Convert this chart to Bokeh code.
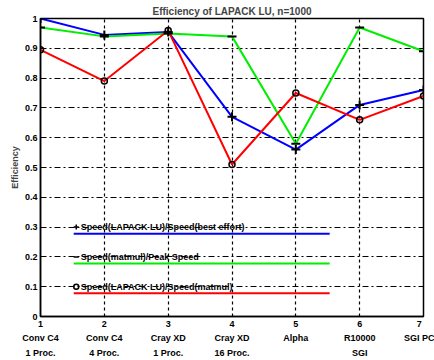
from bokeh.plotting import figure
from bokeh.models import Range1d, FixedTicker, Label
from bokeh.embed import file_html
from bokeh.resources import INLINE

x = [1, 2, 3, 4, 5, 6, 7]
tick_labels = ["1\nConv C4\n1 Proc.", "2\nConv C4\n4 Proc.", "3\nCray XD\n1 Proc.",
               "4\nCray XD\n16 Proc.", "5\nAlpha\n ", "6\nR10000\nSGI", "7\nSGI PC\n "]
lu_best = [1.0, 0.945, 0.955, 0.67, 0.56, 0.71, 0.76]
matmul_peak = [0.97, 0.94, 0.95, 0.94, 0.58, 0.97, 0.89]
lu_matmul = [0.895, 0.79, 0.96, 0.51, 0.75, 0.66, 0.74]
legend_labels = ["Speed(LAPACK LU)/Speed(best effort)", "Speed(matmul)/Peak Speed",
                 "Speed(LAPACK LU)/Speed(matmul)"]

FONT = "Liberation Sans"

p = figure(width=434, height=360, output_backend="svg", toolbar_location=None,
           x_range=Range1d(1, 7), y_range=Range1d(0, 1),
           min_border_left=40, min_border_right=11, min_border_top=18, min_border_bottom=40,
           background_fill_color="white", border_fill_color="white")

p.title.text = "Efficiency of LAPACK LU, n=1000"
p.title.align = "center"
p.title.text_font = FONT
p.title.text_font_size = "10px"
p.title.text_font_style = "bold"
p.title.offset = 0
p.title.standoff = 3

p.outline_line_color = "black"
p.outline_line_width = 1.5

p.xaxis.ticker = FixedTicker(ticks=x)
p.xaxis.major_label_overrides = {xi: lab for xi, lab in zip(x, tick_labels)}
p.yaxis.ticker = FixedTicker(ticks=[i / 10 for i in range(11)])
p.yaxis.major_label_overrides = {0: "0", 1: "1"}
for ax in (p.xaxis[0], p.yaxis[0]):
    ax.axis_line_color = "black"
    ax.axis_line_width = 1.5
    ax.major_tick_in = 0
    ax.major_tick_out = 0
    ax.minor_tick_line_color = None
    ax.major_label_text_font = FONT
    ax.major_label_text_font_size = "9px"
    ax.major_label_text_font_style = "bold"
    ax.major_label_text_color = "black"
p.xaxis.major_label_standoff = 2
p.xaxis.major_label_text_line_height = 1.45
p.yaxis.major_label_standoff = 3
p.yaxis.axis_label = "Efficiency"
p.yaxis.axis_label_text_font = FONT
p.yaxis.axis_label_text_font_size = "9px"
p.yaxis.axis_label_text_font_style = "bold"
p.yaxis.axis_label_standoff = 2

p.ygrid.grid_line_color = "black"
p.ygrid.grid_line_dash = "6 3 2 3"
p.ygrid.grid_line_width = 1.2
p.xgrid.grid_line_color = "black"
p.xgrid.grid_line_dash = "3 3"
p.xgrid.grid_line_width = 1.2

# data lines
p.line(x, lu_best, line_color="#0000ff", line_width=2)
p.line(x, matmul_peak, line_color="#00ee00", line_width=2)
p.line(x, lu_matmul, line_color="#ff0000", line_width=2)
p.scatter(x, lu_best, marker="cross", size=9, line_color="black", line_width=2)
p.scatter(x, matmul_peak, marker="dash", size=9, line_color="black", line_width=2)
p.scatter(x, lu_matmul, marker="circle", size=6, line_color="black", fill_color=None, line_width=1.5)

# legend (drawn in plot, MATLAB-like)
leg_colors = ["#0000ff", "#00ee00", "#ff0000"]
leg_markers = ["cross", "dash", "circle"]
leg_text_y = [0.3, 0.2, 0.1]
for lab, col, mk, ty in zip(legend_labels, leg_colors, leg_markers, leg_text_y):
    p.line([1.52, 5.53], [ty - 0.022, ty - 0.022], line_color=col, line_width=2)
    p.scatter([1.56], [ty], marker=mk, size=5, line_color="black", fill_color=None, line_width=1.5)
    p.add_layout(Label(x=1.63, y=ty, text=lab, text_font=FONT, text_font_size="9px",
                       text_font_style="bold", text_baseline="middle", text_color="black"))

open("out.html", "w").write(file_html(p, INLINE))
